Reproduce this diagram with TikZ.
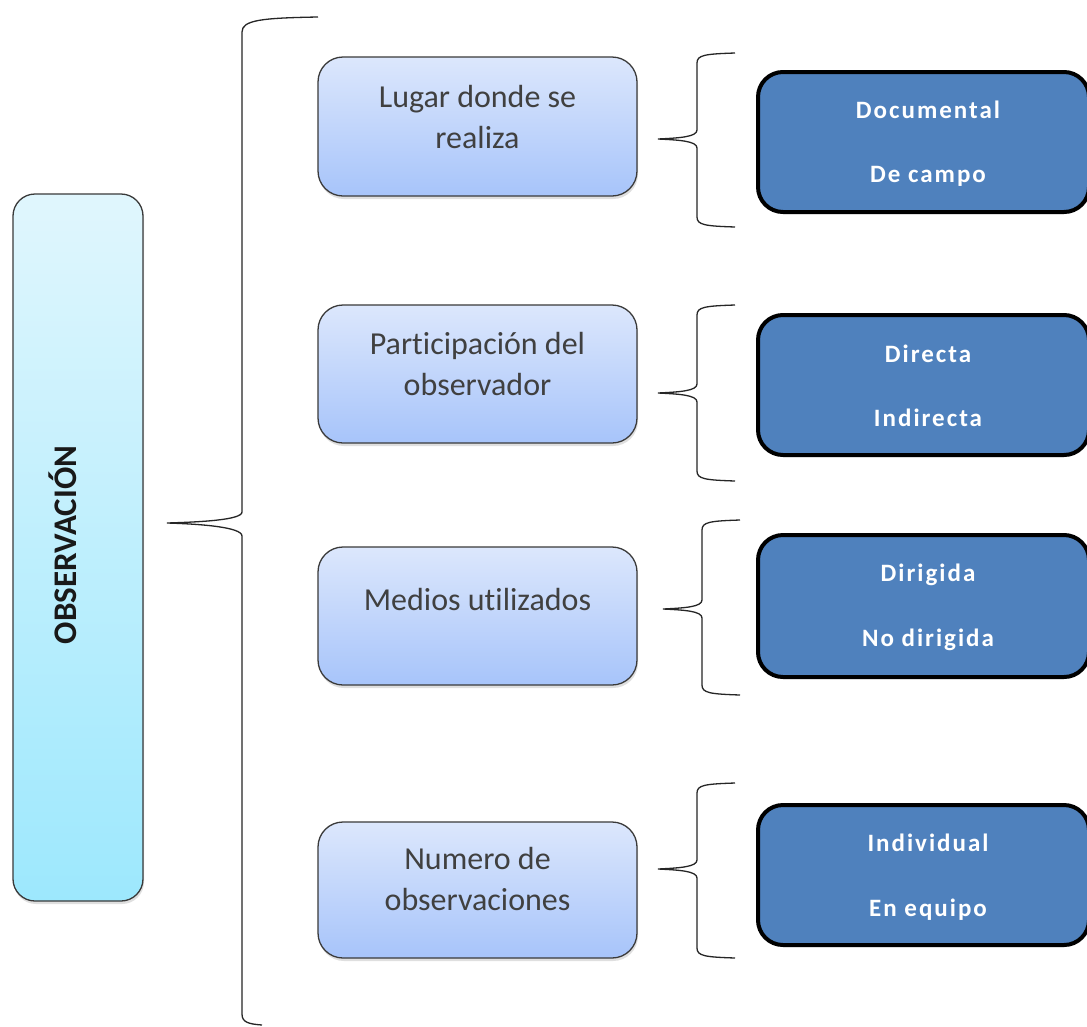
\documentclass[tikz,border=0pt]{standalone}
\usepackage{fontspec}
\setmainfont[Ligatures={NoCommon}]{Carlito}
\newfontfamily\rfont[LetterSpace=8,Ligatures={NoCommon}]{Carlito}
\usetikzlibrary{shadows}
\definecolor{midtop}{HTML}{DCE7FC}
\definecolor{midbot}{HTML}{A7C4FA}
\definecolor{lefttop}{HTML}{E0F6FD}
\definecolor{leftbot}{HTML}{9DE8FD}
\definecolor{darkblue}{HTML}{4F81BD}
\definecolor{txtgray}{HTML}{404040}
\definecolor{edgegray}{HTML}{3A3A3A}
\newcommand{\drawbrace}[6]{%
  % #1 vertical x, #2 top y, #3 end x, #4 tip x, #5 tip y, #6 bottom y
  \draw[bracestyle] (#3,#2) .. controls (#1+8,#2+1) and (#1,#2+2) .. (#1,#2+10)
    -- (#1,#5-9) .. controls (#1,#5-2) and (#1-18,#5-1) .. (#4,#5)
    .. controls (#1-18,#5+1) and (#1,#5+2) .. (#1,#5+9)
    -- (#1,#6-10) .. controls (#1,#6-2) and (#1+8,#6-1) .. (#3,#6);}
\tikzset{
  bracestyle/.style={draw=black!85, line width=1.3pt},
  leftbox/.style={draw=edgegray, line width=1.3pt, rounded corners=22pt,
    top color=lefttop, bottom color=leftbot, minimum width=130pt,
    minimum height=707pt, inner sep=0pt,
    drop shadow={opacity=0.25, shadow xshift=1pt, shadow yshift=-3pt}},
  midbox/.style={draw=edgegray, line width=1.3pt, rounded corners=25pt,
    top color=midtop, bottom color=midbot, minimum width=319pt,
    minimum height=138pt, inner sep=0pt,
    drop shadow={opacity=0.25, shadow xshift=1pt, shadow yshift=-3pt}},
  rightbox/.style={draw=black, line width=4pt, rounded corners=25pt,
    fill=darkblue, minimum width=331pt, minimum height=140pt, inner sep=0pt,
    drop shadow={opacity=0.2, shadow xshift=1pt, shadow yshift=-2pt}},
  midtext/.style={text=txtgray, align=center, inner sep=0pt,
    font=\fontsize{32}{41}\selectfont},
  righttext/.style={text=white, inner sep=0pt,
    font=\rfont\bfseries\fontsize{25}{30}\selectfont},
  lefttext/.style={text=black!90, inner sep=0pt, rotate=90,
    font=\bfseries\fontsize{33}{38}\selectfont}
}
\begin{document}
\begin{tikzpicture}[x=1pt,y=-1pt]
\useasboundingbox[fill=white] (0,0) rectangle (1087,1026);

% left box
\node[leftbox] (obs) at (78,547.5) {};
\node[lefttext] (obst) at (63,545) {OBSERVACIÓN};

% big brace
\draw[bracestyle] (318,17) .. controls (262,18) and (242,20) .. (242,32)
  -- (242,512) .. controls (242,520) and (200,522) .. (167,523)
  .. controls (200,524) and (242,527) .. (242,536)
  -- (242,1014) .. controls (242,1022) and (248,1024) .. (262,1025);

% middle boxes
\node[midbox, minimum height=139pt] (m1) at (477.5,126.5) {};
\node[midbox] (m2) at (477.5,374) {};
\node[midbox] (m3) at (477.5,616) {};
\node[midbox, minimum height=136pt] (m4) at (477.5,890) {};

\node[midtext] (m1t) at (477.5,117) {Lugar donde se\\realiza};
\node[midtext] (m2t) at (477.5,364) {Participación del\\observador};
\node[midtext] (m3t) at (477.5,599) {Medios utilizados};
\node[midtext] (m4t) at (477.5,879) {Numero de\\observaciones};

% small braces
\drawbrace{697}{53}{735}{658}{139}{227}
\drawbrace{697}{305}{735}{658}{393}{481}
\drawbrace{702}{520}{740}{663}{609}{695}
\drawbrace{697}{783}{735}{658}{869}{958}

% right boxes
\node[rightbox] (r1) at (923.5,142) {};
\node[rightbox] (r2) at (923.5,385) {};
\node[rightbox, minimum height=142pt] (r3) at (923.5,606) {};
\node[rightbox] (r4) at (923.5,875) {};

\node[righttext] (r1a) at (928,110) {Documental};
\node[righttext] (r1b) at (928,176) {De campo};
\node[righttext] (r2a) at (928,354) {Directa};
\node[righttext] (r2b) at (928,418) {Indirecta};
\node[righttext] (r3a) at (928,575) {Dirigida};
\node[righttext] (r3b) at (928,640) {No dirigida};
\node[righttext] (r4a) at (928,843) {Individual};
\node[righttext] (r4b) at (928,910) {En equipo};
\end{tikzpicture}
\end{document}
